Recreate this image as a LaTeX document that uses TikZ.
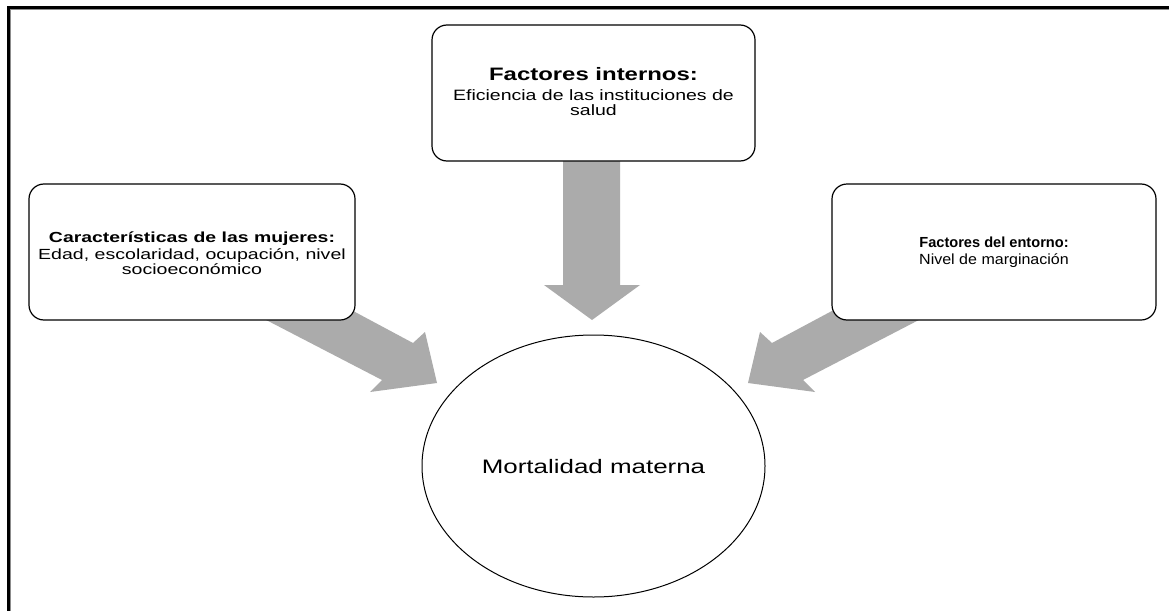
\documentclass[tikz,border=0pt]{standalone}
\usepackage{fontspec}
\setmainfont{Liberation Sans}
\usetikzlibrary{calc,shapes.geometric}
\newcommand{\sx}[2][1.33]{\scalebox{#1}[1]{#2}}
\definecolor{arrowgray}{RGB}{171,171,171}
\tikzset{
  box/.style={draw=black, line width=1.2pt, fill=white, rounded corners=15pt, inner sep=0pt},
  bigarrow/.style={fill=arrowgray, draw=none},
  txt/.style={anchor=base, inner sep=0pt, text=black},
}
\begin{document}
\begin{tikzpicture}[x=1pt,y=-1pt]
\useasboundingbox (0,0) rectangle (1169,610);
\clip (0,0) rectangle (1169,610);
\fill[white] (0,0) rectangle (1169,610);
% frame
\draw[black!45, line width=1pt] (10,640) -- (10,10) -- (1200,10);
\draw[black, line width=3pt] (8,640) -- (8,8) -- (1200,8);

% block arrows
\fill[bigarrow] (250,311.6) -- (330,298.6) -- (413,343) -- (425,332) -- (437,383) -- (370,392) -- (382,380) -- cycle;
\fill[bigarrow] (935,311.6) -- (855,298.6) -- (772,343) -- (760,332) -- (748,383) -- (815,392) -- (803,380) -- cycle;
\fill[bigarrow] (563,150) -- (620,150) -- (620,285) -- (640,285) -- (592,320) -- (544,285) -- (563,285) -- cycle;

% boxes
\node[box, minimum width=323pt, minimum height=136pt] (T) at (593.5,93) {};
\node[box, minimum width=326pt, minimum height=136pt] (L) at (192,252) {};
\node[box, minimum width=324pt, minimum height=136pt] (R) at (994,252) {};

% ellipse
\node[draw=black, line width=1pt, fill=white, ellipse, minimum width=343pt, minimum height=262pt, inner sep=0pt] (M) at (593.5,466) {};
\node[txt, font=\fontsize{19.5}{22}\selectfont] (Mt) at ($(M.center)+(0,7)$) {\sx{Mortalidad materna}};

% top box text
\node[txt, font=\fontsize{18}{20}\selectfont\bfseries] (T1) at ($(T.center)+(0,-13)$) {\sx{Factores internos:}};
\node[txt, font=\fontsize{15}{17}\selectfont] (T2) at ($(T.center)+(0,7)$) {\sx[1.3]{Eficiencia de las instituciones de}};
\node[txt, font=\fontsize{15}{17}\selectfont] (T3) at ($(T.center)+(0,22)$) {\sx[1.3]{salud}};

% left box text
\node[txt, font=\fontsize{14.6}{17}\selectfont\bfseries] (L1) at ($(L.center)+(0,-10)$) {\sx{Características de las mujeres:}};
\node[txt, font=\fontsize{14.7}{17}\selectfont] (L2) at ($(L.center)+(0,7)$) {\sx{Edad, escolaridad, ocupación, nivel}};
\node[txt, font=\fontsize{14.7}{17}\selectfont] (L3) at ($(L.center)+(0,22)$) {\sx{socioeconómico}};

% right box text
\node[txt, font=\fontsize{14.6}{16}\selectfont\bfseries] (R1) at ($(R.center)+(0,-5)$) {\sx[1.0]{Factores del entorno:}};
\node[txt, font=\fontsize{14.7}{17}\selectfont] (R2) at ($(R.center)+(0,12)$) {\sx[1.09]{Nivel de marginación}};
\end{tikzpicture}
\end{document}
